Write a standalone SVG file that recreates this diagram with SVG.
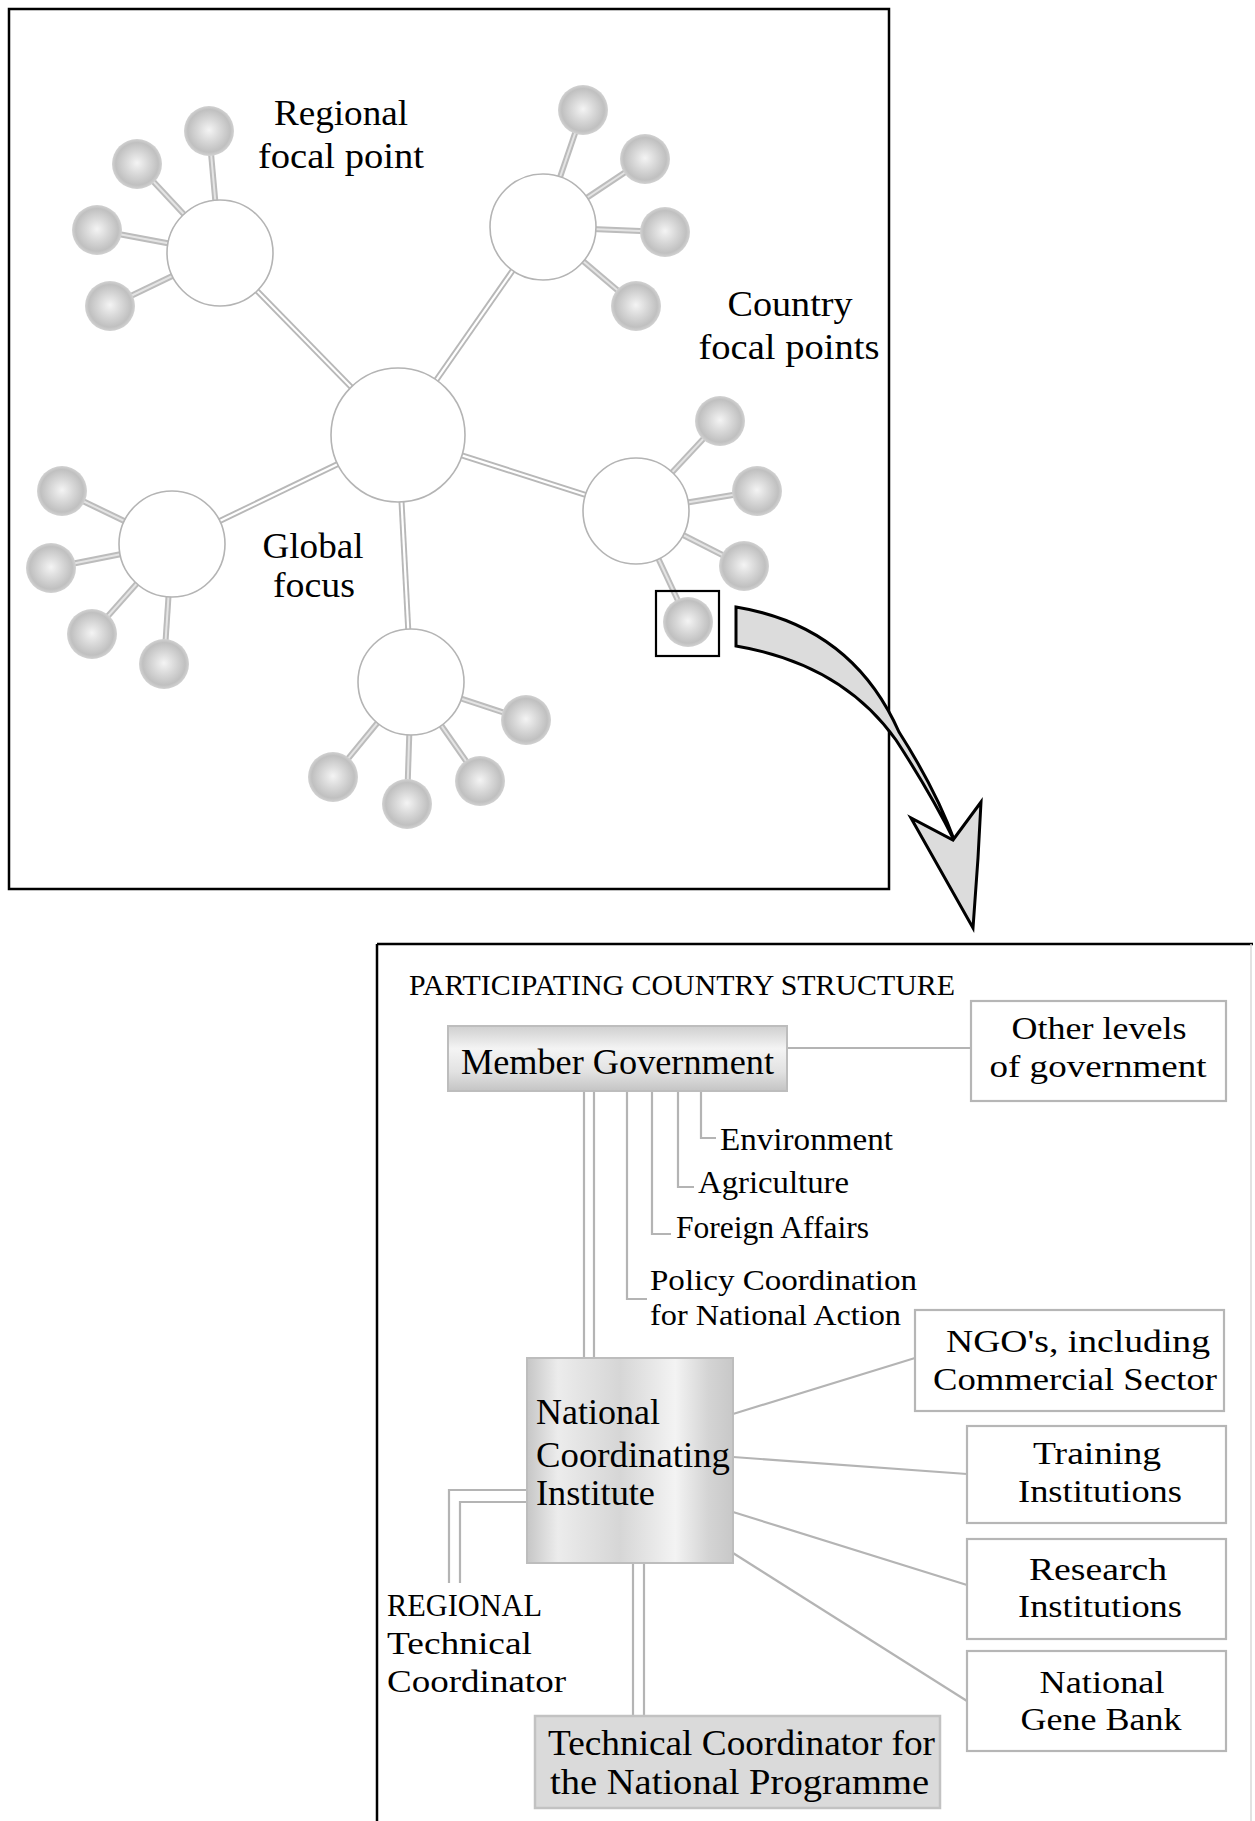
<svg xmlns="http://www.w3.org/2000/svg" width="1255" height="1821" viewBox="0 0 1255 1821">
<defs>
<radialGradient id="ball" cx="0.5" cy="0.5" r="0.5" fx="0.5" fy="0.48">
<stop offset="0" stop-color="#f4f4f4"/>
<stop offset="0.45" stop-color="#d8d8d8"/>
<stop offset="0.85" stop-color="#c0c0c0"/>
<stop offset="1" stop-color="#d2d2d2"/>
</radialGradient>
<linearGradient id="gMember" x1="0" y1="0" x2="0" y2="1">
<stop offset="0" stop-color="#cfcfcf"/>
<stop offset="0.35" stop-color="#f4f4f4"/>
<stop offset="0.7" stop-color="#e2e2e2"/>
<stop offset="1" stop-color="#c4c4c4"/>
</linearGradient>
<linearGradient id="gNCI" x1="0" y1="0" x2="1" y2="0">
<stop offset="0" stop-color="#c6c6c6"/>
<stop offset="0.15" stop-color="#ececec"/>
<stop offset="0.45" stop-color="#d6d6d6"/>
<stop offset="0.72" stop-color="#f3f3f3"/>
<stop offset="0.88" stop-color="#d4d4d4"/>
<stop offset="1" stop-color="#c8c8c8"/>
</linearGradient>
<style>
.t{font-family:"Liberation Serif","Times New Roman",serif;font-size:35px;fill:#000}
.tm{text-anchor:middle}
.s32{font-size:32px}
.s30{font-size:30px}
.hub{fill:#fff;stroke:#b4b4b4;stroke-width:1.6}
.ball{fill:url(#ball)}
.spo{stroke:#b8b8b8;stroke-width:6;fill:none}
.spi{stroke:#fff;stroke-width:2.2;fill:none}
.bso{stroke:#bcbcbc;stroke-width:6;fill:none}
.bsi{stroke:#e4e4e4;stroke-width:2;fill:none}
.frame{fill:none;stroke:#000;stroke-width:2.5}
.wbox{fill:#fff;stroke:#b6b6b6;stroke-width:2.2}
.conn{stroke:#b4b4b4;stroke-width:2.2;fill:none}
</style>
</defs>
<rect width="1255" height="1821" fill="#fff"/>

<!-- TOP PANEL -->
<rect id="global-panel" class="frame" x="9" y="9" width="880" height="880"/>

<g id="connectors-top">
<g class="spo">
<line x1="398" y1="435" x2="220" y2="253"/>
<line x1="398" y1="435" x2="543" y2="227"/>
<line x1="398" y1="435" x2="636" y2="511"/>
<line x1="398" y1="435" x2="172" y2="544"/>
<line x1="398" y1="435" x2="411" y2="682"/>
</g>
<g class="spi">
<line x1="398" y1="435" x2="220" y2="253"/>
<line x1="398" y1="435" x2="543" y2="227"/>
<line x1="398" y1="435" x2="636" y2="511"/>
<line x1="398" y1="435" x2="172" y2="544"/>
<line x1="398" y1="435" x2="411" y2="682"/>
</g>
<g class="bso">
<line x1="220" y1="253" x2="209" y2="131"/>
<line x1="220" y1="253" x2="137" y2="164"/>
<line x1="220" y1="253" x2="97" y2="230"/>
<line x1="220" y1="253" x2="110" y2="306"/>
<line x1="543" y1="227" x2="583" y2="110"/>
<line x1="543" y1="227" x2="645" y2="159"/>
<line x1="543" y1="227" x2="665" y2="232"/>
<line x1="543" y1="227" x2="636" y2="306"/>
<line x1="636" y1="511" x2="720" y2="421"/>
<line x1="636" y1="511" x2="757" y2="491"/>
<line x1="636" y1="511" x2="744" y2="566"/>
<line x1="636" y1="511" x2="688" y2="622"/>
<line x1="172" y1="544" x2="62" y2="491"/>
<line x1="172" y1="544" x2="51" y2="568"/>
<line x1="172" y1="544" x2="92" y2="634"/>
<line x1="172" y1="544" x2="164" y2="664"/>
<line x1="411" y1="682" x2="526" y2="720"/>
<line x1="411" y1="682" x2="480" y2="781"/>
<line x1="411" y1="682" x2="407" y2="804"/>
<line x1="411" y1="682" x2="333" y2="777"/>
</g>
<g class="bsi">
<line x1="220" y1="253" x2="209" y2="131"/>
<line x1="220" y1="253" x2="137" y2="164"/>
<line x1="220" y1="253" x2="97" y2="230"/>
<line x1="220" y1="253" x2="110" y2="306"/>
<line x1="543" y1="227" x2="583" y2="110"/>
<line x1="543" y1="227" x2="645" y2="159"/>
<line x1="543" y1="227" x2="665" y2="232"/>
<line x1="543" y1="227" x2="636" y2="306"/>
<line x1="636" y1="511" x2="720" y2="421"/>
<line x1="636" y1="511" x2="757" y2="491"/>
<line x1="636" y1="511" x2="744" y2="566"/>
<line x1="636" y1="511" x2="688" y2="622"/>
<line x1="172" y1="544" x2="62" y2="491"/>
<line x1="172" y1="544" x2="51" y2="568"/>
<line x1="172" y1="544" x2="92" y2="634"/>
<line x1="172" y1="544" x2="164" y2="664"/>
<line x1="411" y1="682" x2="526" y2="720"/>
<line x1="411" y1="682" x2="480" y2="781"/>
<line x1="411" y1="682" x2="407" y2="804"/>
<line x1="411" y1="682" x2="333" y2="777"/>
</g>
</g>

<g id="global-focus"><circle class="hub" cx="398" cy="435" r="67"/></g>
<g id="hub-ul"><circle class="hub" cx="220" cy="253" r="53"/></g>
<g id="hub-ur"><circle class="hub" cx="543" cy="227" r="53"/></g>
<g id="hub-r"><circle class="hub" cx="636" cy="511" r="53"/></g>
<g id="hub-l"><circle class="hub" cx="172" cy="544" r="53"/></g>
<g id="hub-b"><circle class="hub" cx="411" cy="682" r="53"/></g>

<g id="balls">
<circle class="ball" cx="209" cy="131" r="25"/>
<circle class="ball" cx="137" cy="164" r="25"/>
<circle class="ball" cx="97" cy="230" r="25"/>
<circle class="ball" cx="110" cy="306" r="25"/>
<circle class="ball" cx="583" cy="110" r="25"/>
<circle class="ball" cx="645" cy="159" r="25"/>
<circle class="ball" cx="665" cy="232" r="25"/>
<circle class="ball" cx="636" cy="306" r="25"/>
<circle class="ball" cx="720" cy="421" r="25"/>
<circle class="ball" cx="757" cy="491" r="25"/>
<circle class="ball" cx="744" cy="566" r="25"/>
<circle class="ball" cx="688" cy="622" r="25"/>
<circle class="ball" cx="62" cy="491" r="25"/>
<circle class="ball" cx="51" cy="568" r="25"/>
<circle class="ball" cx="92" cy="634" r="25"/>
<circle class="ball" cx="164" cy="664" r="25"/>
<circle class="ball" cx="526" cy="720" r="25"/>
<circle class="ball" cx="480" cy="781" r="25"/>
<circle class="ball" cx="407" cy="804" r="25"/>
<circle class="ball" cx="333" cy="777" r="25"/>
</g>

<rect id="selection" x="656" y="591" width="63" height="65" fill="none" stroke="#000" stroke-width="2.2"/>

<g id="labels-top">
<text class="t tm" x="341" y="125" textLength="134" lengthAdjust="spacingAndGlyphs">Regional</text>
<text class="t tm" x="341" y="168" textLength="166" lengthAdjust="spacingAndGlyphs">focal point</text>
<text class="t tm" x="790" y="316" textLength="125" lengthAdjust="spacingAndGlyphs">Country</text>
<text class="t tm" x="789" y="359" textLength="181" lengthAdjust="spacingAndGlyphs">focal points</text>
<text class="t tm" x="313" y="558" textLength="101" lengthAdjust="spacingAndGlyphs">Global</text>
<text class="t tm" x="314" y="597" textLength="82" lengthAdjust="spacingAndGlyphs">focus</text>
</g>

<g id="zoom-arrow" stroke="#000" stroke-width="3" stroke-linejoin="miter" fill="#dcdcdc">
<path d="M736,607 Q852,626 899,732 Q936,790 955,842 Q930,792 896,740 Q842,664 736,646 Z"/>
<path d="M911,818 L973,928 L978,858 L981,802 L953,840 Z"/>
</g>

<!-- LOWER PANEL -->
<g id="country-panel">
<line x1="377" y1="944" x2="1253" y2="944" stroke="#000" stroke-width="2.5"/>
<line x1="377" y1="944" x2="377" y2="1821" stroke="#000" stroke-width="2.5"/>
<line x1="1251" y1="944" x2="1251" y2="1821" stroke="#d8d8d8" stroke-width="1.5"/>
<text class="t" x="409" y="995" style="font-size:29px" textLength="546" lengthAdjust="spacingAndGlyphs">PARTICIPATING COUNTRY STRUCTURE</text>
</g>

<g id="connectors">
<line class="conn" x1="787" y1="1048" x2="971" y2="1048"/>
<line class="conn" x1="584" y1="1091" x2="584" y2="1358"/>
<line class="conn" x1="594" y1="1091" x2="594" y2="1358"/>
<polyline class="conn" points="701,1091 701,1138 716,1138"/>
<polyline class="conn" points="678,1091 678,1187 694,1187"/>
<polyline class="conn" points="652,1091 652,1234 671,1234"/>
<polyline class="conn" points="627,1091 627,1299 647,1299"/>
<polyline class="conn" points="527,1490 449,1490 449,1583"/>
<polyline class="conn" points="527,1502 460,1502 460,1583"/>
<line class="conn" x1="633" y1="1564" x2="633" y2="1716"/>
<line class="conn" x1="644" y1="1564" x2="644" y2="1716"/>
<line class="conn" x1="733" y1="1414" x2="915" y2="1358"/>
<line class="conn" x1="733" y1="1457" x2="967" y2="1474"/>
<line class="conn" x1="733" y1="1512" x2="967" y2="1585"/>
<line class="conn" x1="733" y1="1553" x2="967" y2="1701"/>
</g>

<g id="member-government">
<rect x="448" y="1026" width="339" height="65" fill="url(#gMember)" stroke="#bdbdbd" stroke-width="2"/>
<text class="t" x="461" y="1074" style="font-size:36px" textLength="313" lengthAdjust="spacingAndGlyphs">Member Government</text>
</g>
<g id="other-levels">
<rect class="wbox" x="971" y="1001" width="255" height="100"/>
<text class="t tm s32" x="1099" y="1039" textLength="175" lengthAdjust="spacingAndGlyphs">Other levels</text>
<text class="t tm s32" x="1098" y="1077" textLength="217" lengthAdjust="spacingAndGlyphs">of government</text>
</g>
<g id="environment"><text class="t s32" x="720" y="1150" textLength="173" lengthAdjust="spacingAndGlyphs">Environment</text></g>
<g id="agriculture"><text class="t s32" x="698" y="1193" textLength="151" lengthAdjust="spacingAndGlyphs">Agriculture</text></g>
<g id="foreign-affairs"><text class="t s32" x="676" y="1238" textLength="193" lengthAdjust="spacingAndGlyphs">Foreign Affairs</text></g>
<g id="policy-coordination">
<text class="t s30" x="650" y="1290" textLength="267" lengthAdjust="spacingAndGlyphs">Policy Coordination</text>
<text class="t s30" x="650" y="1325" textLength="251" lengthAdjust="spacingAndGlyphs">for National Action</text>
</g>
<g id="ngos">
<rect class="wbox" x="915" y="1310" width="309" height="101"/>
<text class="t tm s32" x="1078" y="1352" textLength="264" lengthAdjust="spacingAndGlyphs">NGO's, including</text>
<text class="t tm s32" x="1075" y="1390" textLength="284" lengthAdjust="spacingAndGlyphs">Commercial Sector</text>
</g>
<g id="nci">
<rect x="527" y="1358" width="206" height="205" fill="url(#gNCI)" stroke="#bdbdbd" stroke-width="2"/>
<text class="t" x="536" y="1424" textLength="124" lengthAdjust="spacingAndGlyphs">National</text>
<text class="t" x="536" y="1467" textLength="194" lengthAdjust="spacingAndGlyphs">Coordinating</text>
<text class="t" x="536" y="1505" textLength="119" lengthAdjust="spacingAndGlyphs">Institute</text>
</g>
<g id="training">
<rect class="wbox" x="967" y="1426" width="259" height="97"/>
<text class="t tm s32" x="1097" y="1464" textLength="128" lengthAdjust="spacingAndGlyphs">Training</text>
<text class="t tm s32" x="1100" y="1502" textLength="164" lengthAdjust="spacingAndGlyphs">Institutions</text>
</g>
<g id="research">
<rect class="wbox" x="967" y="1539" width="259" height="100"/>
<text class="t tm s32" x="1098" y="1580" textLength="138" lengthAdjust="spacingAndGlyphs">Research</text>
<text class="t tm s32" x="1100" y="1617" textLength="164" lengthAdjust="spacingAndGlyphs">Institutions</text>
</g>
<g id="gene-bank">
<rect class="wbox" x="967" y="1651" width="259" height="100"/>
<text class="t tm s32" x="1102" y="1693" textLength="125" lengthAdjust="spacingAndGlyphs">National</text>
<text class="t tm s32" x="1101" y="1730" textLength="161" lengthAdjust="spacingAndGlyphs">Gene Bank</text>
</g>
<g id="regional-coordinator">
<text class="t s32" x="387" y="1616" textLength="155" lengthAdjust="spacingAndGlyphs">REGIONAL</text>
<text class="t s32" x="387" y="1654" textLength="145" lengthAdjust="spacingAndGlyphs">Technical</text>
<text class="t s32" x="387" y="1692" textLength="179" lengthAdjust="spacingAndGlyphs">Coordinator</text>
</g>
<g id="technical-coordinator">
<rect x="535" y="1716" width="405" height="92" fill="#dadada" stroke="#c2c2c2" stroke-width="2.5"/>
<text class="t" x="548" y="1755" textLength="387" lengthAdjust="spacingAndGlyphs">Technical Coordinator for</text>
<text class="t" x="550" y="1794" textLength="379" lengthAdjust="spacingAndGlyphs">the National Programme</text>
</g>
</svg>
